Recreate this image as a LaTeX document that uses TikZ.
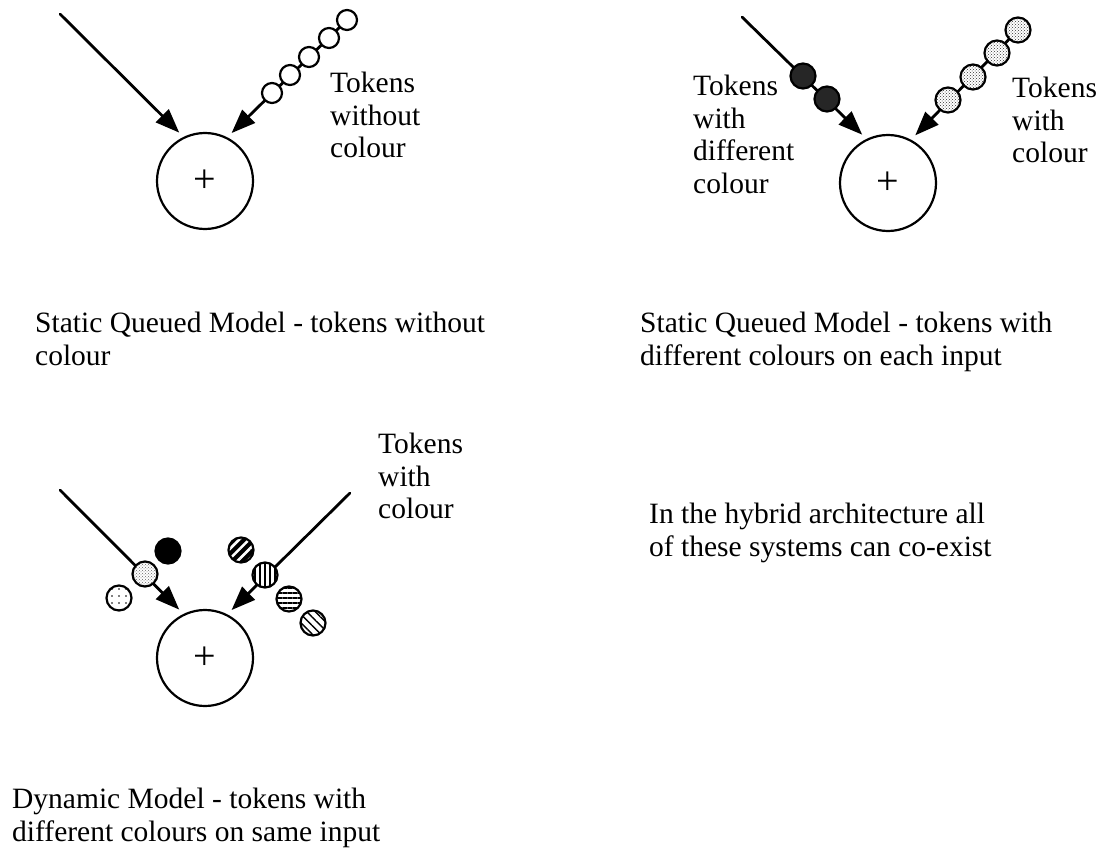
\documentclass[tikz,border=0pt]{standalone}
\usepackage{fontspec}
\setmainfont{Liberation Serif}
\usetikzlibrary{arrows.meta,patterns,patterns.meta}

\begin{document}
\begin{tikzpicture}[x=1pt,y=-1pt,
      adder/.style={draw, circle, line width=2.2pt, minimum size=96pt, inner sep=0pt, font=\fontsize{40}{40}\selectfont},
      flow/.style={line width=2.8pt, line cap=round, -{Triangle[length=24pt,width=18pt]}, shorten >=6pt},
      token/.style={draw, circle, line width=2.2pt, minimum size=25pt, inner sep=0pt, fill=white},
      hollow/.style={token, minimum size=20pt},
      note/.style={anchor=north west, inner sep=0pt, align=left, font=\fontsize{29.5}{32.5}\selectfont}
    ]
    \useasboundingbox (0,0) rectangle (1113,848);

    % static queued, no colour
    \node[adder] (add1) at (205,181) {+};
    \coordinate (in1) at (60,14);
    \coordinate (in2) at (347,20);
    \draw[flow] (in1) -- (add1.116);
    \draw[flow] (in2) -- (add1.63);
    \foreach \x/\y [count=\i] in {347/20,329/38,309/57,290/75,272/93}
      \node[hollow] (w\i) at (\x,\y) {};
    \node[note] (n1) at (330,72) {Tokens\\without\\colour};
    \node[note] (c1) at (35,312) {Static Queued Model - tokens without\\colour};

    % static queued, coloured
    \node[adder] (add2) at (888,183) {+};
    \coordinate (in3) at (742,17);
    \coordinate (in4) at (1018,30);
    \draw[flow] (in3) -- (add2.116);
    \draw[flow] (in4) -- (add2.62);
    \node[token, fill=black!85] (d1) at (803,76) {};
    \node[token, fill=black!85] (d2) at (827,99) {};
    \foreach \x/\y [count=\i] in {1018/30,997/53,973/77,948/100}
      \node[token, preaction={fill=white}, pattern=crosshatch dots, pattern color=black!80] (s\i) at (\x,\y) {};
    \node[note] (n2) at (693,75) {Tokens\\with\\different\\colour};
    \node[note] (n3) at (1012,77) {Tokens\\with\\colour};
    \node[note] (c2) at (640,312) {Static Queued Model - tokens with\\different colours on each input};

    % dynamic
    \node[adder] (add3) at (205,658) {+};
    \coordinate (in5) at (60,490);
    \coordinate (in6) at (350,493);
    \draw[flow] (in5) -- (add3.116);
    \draw[flow] (in6) -- (add3.63);
    \node[token, preaction={fill=white}, pattern=crosshatch dots, pattern color=black!60] (k1) at (145,574) {};
    \node[token, fill=black] (k2) at (168,551) {};
    \node[token, preaction={fill=white}, pattern={Dots[distance=7pt,radius=0.9pt]}] (k3) at (119,598) {};
    \node[token, preaction={fill=black}, pattern={Lines[angle=45,distance=7pt,line width=2.6pt]}, pattern color=white] (k4) at (241,550) {};
    \node[token, preaction={fill=white}, pattern={Lines[angle=90,distance=5pt,line width=1.6pt]}] (k5) at (265,575) {};
    \node[token, preaction={fill=white}, pattern={Lines[angle=0,distance=5pt,line width=1.8pt]}] (k6) at (289,599) {};
    \node[token, preaction={fill=white}, pattern={Lines[angle=-45,distance=6pt,line width=1.4pt]}] (k7) at (313,623) {};
    \node[note] (n4) at (378,433) {Tokens\\with\\colour};
    \node[note] (c3) at (12,788) {Dynamic Model - tokens with\\different colours on same input};

    \node[note] (c4) at (649,503) {In the hybrid architecture all\\of these systems can co-exist};
  \end{tikzpicture}
\end{document}
